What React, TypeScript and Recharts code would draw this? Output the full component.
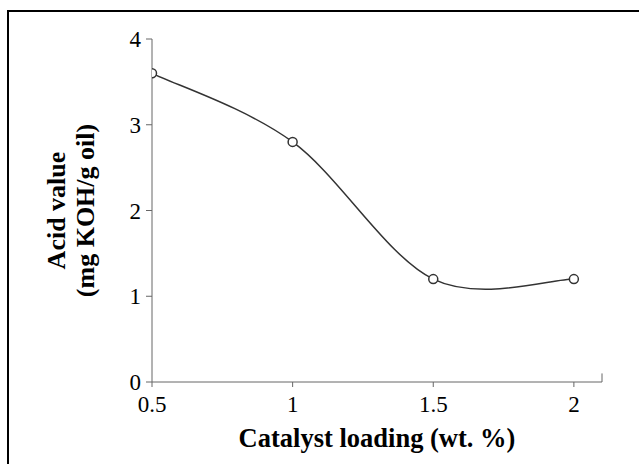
import { LineChart, Line, XAxis, YAxis, ReferenceLine } from 'recharts'

const loading = [0.5, 1, 1.5, 2]
const acidValue = [3.6, 2.8, 1.2, 1.2]
const xTicks = [0.5, 1, 1.5, 2]
const yTicks = [0, 1, 2, 3, 4]

const data = loading.map((x, i) => ({ loading: x, acid: acidValue[i] }))

const FONT = '"Liberation Serif", "Times New Roman", serif'
const AXIS = '#666'

// Catmull-Rom style smoothing (like the spreadsheet "smoothed line")
function smoothCurve(context: any) {
  let pts: [number, number][] = []
  return {
    areaStart() {},
    areaEnd() {},
    lineStart() { pts = [] },
    point(x: number, y: number) { pts.push([+x, +y]) },
    lineEnd() {
      if (!pts.length) return
      context.moveTo(pts[0][0], pts[0][1])
      for (let i = 0; i < pts.length - 1; i++) {
        const p0 = pts[i - 1] || pts[i]
        const p1 = pts[i]
        const p2 = pts[i + 1]
        const p3 = pts[i + 2] || pts[i + 1]
        context.bezierCurveTo(
          p1[0] + (p2[0] - p0[0]) / 6, p1[1] + (p2[1] - p0[1]) / 6,
          p2[0] - (p3[0] - p1[0]) / 6, p2[1] - (p3[1] - p1[1]) / 6,
          p2[0], p2[1],
        )
      }
    },
  }
}

function YLabel({ viewBox }: any) {
  const cx = 65
  const cy = viewBox ? viewBox.y + viewBox.height / 2 : 210
  return (
    <text
      transform={`rotate(-90, ${cx}, ${cy})`}
      x={cx}
      y={cy}
      textAnchor="middle"
      fontFamily={FONT}
      fontWeight="bold"
      fontSize={26}
      fill="#000"
    >
      <tspan x={cx} y={cy}>Acid value</tspan>
      <tspan x={cx} y={cy} dy={29}>(mg KOH/g oil)</tspan>
    </text>
  )
}

export default function App() {
  return (
    <div style={{ position: 'absolute', left: 0, top: 0, width: 639, height: 464 }}>
      <div
        style={{
          position: 'absolute', left: 7, top: 10, width: 632, height: 454,
          borderLeft: '2px solid #000', borderTop: '2px solid #000', boxSizing: 'border-box',
        }}
      />
      <LineChart width={639} height={464} data={data} margin={{ top: 39, right: 37, left: 0, bottom: 0 }}>
        <XAxis
          type="number" dataKey="loading" domain={[0.5, 2.1]} ticks={xTicks}
          allowDataOverflow height={82} stroke={AXIS} tickSize={5} tickMargin={9}
          tick={{ fill: '#000', fontSize: 23, fontFamily: FONT }}
          label={{ value: 'Catalyst loading (wt. %)', position: 'insideBottom', offset: 17,
            style: { fill: '#000', fontSize: 26.5, fontWeight: 'bold', fontFamily: FONT } }}
        />
        <YAxis
          type="number" domain={[0, 4]} ticks={yTicks} width={152}
          stroke={AXIS} tickSize={6} tickMargin={5}
          tick={{ fill: '#000', fontSize: 23, fontFamily: FONT }}
          label={<YLabel />}
        />
        <ReferenceLine segment={[{ x: 2.1, y: 0 }, { x: 2.1, y: 0.1 }]} stroke={AXIS} ifOverflow="visible" />
        <Line
          type={smoothCurve as any} dataKey="acid" stroke="#333" strokeWidth={1.5}
          dot={{ r: 4.5, stroke: '#333', strokeWidth: 1.5, fill: '#fff' }}
          isAnimationActive={false}
        />
      </LineChart>
    </div>
  )
}
